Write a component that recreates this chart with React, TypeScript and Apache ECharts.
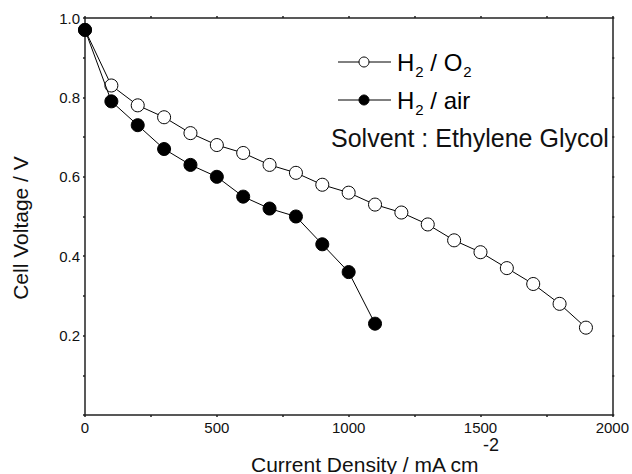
import React, { useEffect, useRef } from "react";
import * as echarts from "echarts";

const currentO2 = [0, 100, 200, 300, 400, 500, 600, 700, 800, 900, 1000, 1100, 1200, 1300, 1400, 1500, 1600, 1700, 1800, 1900];
const voltageO2 = [0.97, 0.83, 0.78, 0.75, 0.71, 0.68, 0.66, 0.63, 0.61, 0.58, 0.56, 0.53, 0.51, 0.48, 0.44, 0.41, 0.37, 0.33, 0.28, 0.22];
const currentAir = [0, 100, 200, 300, 400, 500, 600, 700, 800, 900, 1000, 1100];
const voltageAir = [0.97, 0.79, 0.73, 0.67, 0.63, 0.6, 0.55, 0.52, 0.5, 0.43, 0.36, 0.23];

const FONT = "Liberation Sans, Arial, sans-serif";

export default function App() {
  const ref = useRef<HTMLDivElement>(null);
  useEffect(() => {
    if (!ref.current) return;
    const chart = echarts.init(ref.current, null, { renderer: "svg" });
    const axisCommon = {
      axisLine: { show: true, onZero: false, lineStyle: { color: "#222", width: 1.5 } },
      axisTick: { show: true, inside: false, length: 2, lineStyle: { color: "#222", width: 1.5 } },
      splitLine: { show: false },
    };
    const rich = {
      n: { fontSize: 24, fontFamily: FONT, color: "#111" },
      s: { fontSize: 15, fontFamily: FONT, color: "#111", padding: [18, 0, 0, 1] },
    };
    chart.setOption({
      animation: false,
      backgroundColor: "#fff",
      grid: { left: 85, right: 18, top: 18, bottom: 59, containLabel: false },
      xAxis: [
        {
          type: "value",
          min: 0,
          max: 2000,
          interval: 250,
          ...axisCommon,
          axisLabel: {
            color: "#111",
            fontFamily: FONT,
            fontSize: 15,
            margin: 5,
            formatter: (v: number) => (v % 500 === 0 ? String(v) : ""),
          },
        },
        {
          type: "value",
          position: "top",
          min: 0,
          max: 2000,
          interval: 250,
          ...axisCommon,
          axisLabel: { show: false },
        },
      ],
      yAxis: [
        {
          type: "value",
          min: 0,
          max: 1.0,
          interval: 0.1,
          ...axisCommon,
          axisLabel: {
            color: "#111",
            fontFamily: FONT,
            fontSize: 15,
            margin: 5,
            formatter: (v: number) => {
              const r = Math.round(v * 10);
              return r > 0 && r % 2 === 0 ? v.toFixed(1) : "";
            },
          },
        },
        {
          type: "value",
          position: "right",
          min: 0,
          max: 1.0,
          interval: 0.1,
          ...axisCommon,
          axisLabel: { show: false },
        },
      ],
      series: [
        {
          type: "line",
          data: currentO2.map((x, i) => [x, voltageO2[i]]),
          symbol: "circle",
          symbolSize: 13,
          lineStyle: { color: "#000", width: 1 },
          itemStyle: { color: "#fff", borderColor: "#000", borderWidth: 1 },
          z: 3,
        },
        {
          type: "line",
          data: currentAir.map((x, i) => [x, voltageAir[i]]),
          symbol: "circle",
          symbolSize: 13,
          lineStyle: { color: "#000", width: 1 },
          itemStyle: { color: "#000", borderColor: "#000", borderWidth: 1 },
          z: 4,
        },
      ],
      graphic: [
        { type: "line", shape: { x1: 338, y1: 62, x2: 391, y2: 62 }, style: { stroke: "#000", lineWidth: 1 } },
        { type: "circle", shape: { cx: 364, cy: 62, r: 5 }, style: { fill: "#fff", stroke: "#000", lineWidth: 1 }, z: 10 },
        { type: "line", shape: { x1: 338, y1: 100, x2: 391, y2: 100 }, style: { stroke: "#000", lineWidth: 1 } },
        { type: "circle", shape: { cx: 364, cy: 100, r: 5 }, style: { fill: "#000", stroke: "#000", lineWidth: 1 }, z: 10 },
        {
          type: "text",
          x: 397,
          y: 62,
          style: {
            text: "{n|H}{s|2}{n| / O}{s|2}",
            verticalAlign: "middle",
            rich,
          },
        },
        {
          type: "text",
          x: 397,
          y: 100,
          style: {
            text: "{n|H}{s|2}{n| / air}",
            verticalAlign: "middle",
            rich,
          },
        },
        {
          type: "text",
          x: 331,
          y: 138,
          style: {
            text: "Solvent : Ethylene Glycol",
            fontSize: 25,
            fontFamily: FONT,
            fill: "#111",
            verticalAlign: "middle",
          },
        },
        {
          type: "text",
          x: 20,
          y: 228,
          rotation: Math.PI / 2,
          style: {
            text: "Cell Voltage / V",
            fontSize: 21,
            fontFamily: FONT,
            fill: "#111",
            align: "center",
            verticalAlign: "middle",
          },
        },
        {
          type: "text",
          x: 251,
          y: 464,
          style: {
            text: "Current Density / mA cm",
            fontSize: 21,
            fontFamily: FONT,
            fill: "#111",
            align: "left",
            verticalAlign: "middle",
          },
        },
        {
          type: "text",
          x: 483,
          y: 445,
          style: {
            text: "-2",
            fontSize: 18,
            fontFamily: FONT,
            fill: "#111",
            align: "left",
            verticalAlign: "middle",
          },
        },
      ],
    });
    return () => chart.dispose();
  }, []);
  return <div ref={ref} style={{ position: "fixed", left: 0, top: 0, width: 632, height: 474 }} />;
}
